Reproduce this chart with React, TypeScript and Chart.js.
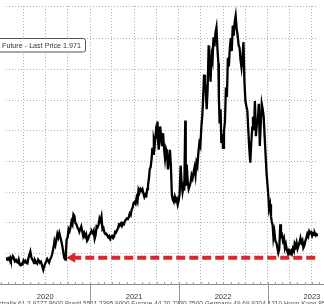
import React, { useEffect, useRef } from "react";
import { Chart, registerables } from "chart.js";

Chart.register(...registerables);

const dates: string[] = [
  "2020-01-22","2020-01-27","2020-01-31","2020-02-04","2020-02-08","2020-02-11","2020-02-15","2020-02-19","2020-02-23","2020-02-27",
  "2020-03-03","2020-03-06","2020-03-10","2020-03-14","2020-03-18","2020-03-22","2020-03-26","2020-03-30","2020-04-03","2020-04-07",
  "2020-04-11","2020-04-15","2020-04-19","2020-04-23","2020-04-27","2020-05-01","2020-05-05","2020-05-08","2020-05-12","2020-05-16",
  "2020-05-20","2020-05-24","2020-05-29","2020-06-02","2020-06-05","2020-06-09","2020-06-13","2020-06-17","2020-06-23","2020-06-27",
  "2020-07-01","2020-07-05","2020-07-09","2020-07-13","2020-07-17","2020-07-21","2020-07-25","2020-07-29","2020-08-04","2020-08-08",
  "2020-08-12","2020-08-16","2020-08-20","2020-08-24","2020-08-28","2020-09-01","2020-09-05","2020-09-09","2020-09-13","2020-09-17",
  "2020-09-21","2020-09-24","2020-09-27","2020-10-01","2020-10-05","2020-10-09","2020-10-13","2020-10-17","2020-10-21","2020-10-25",
  "2020-10-29","2020-11-02","2020-11-06","2020-11-10","2020-11-14","2020-11-18","2020-11-22","2020-11-26","2020-11-30","2020-12-04",
  "2020-12-08","2020-12-12","2020-12-16","2020-12-20","2020-12-24","2020-12-28",
  "2021-01-01","2021-01-05","2021-01-08","2021-01-12","2021-01-16","2021-01-20","2021-01-24","2021-01-28","2021-02-01","2021-02-05",
  "2021-02-09","2021-02-13","2021-02-17","2021-02-21","2021-02-25","2021-03-01","2021-03-05","2021-03-09","2021-03-13","2021-03-17",
  "2021-03-21","2021-03-25","2021-03-29","2021-04-02","2021-04-06","2021-04-10","2021-04-14","2021-04-18","2021-04-22","2021-04-26",
  "2021-04-30","2021-05-04","2021-05-08","2021-05-12","2021-05-16","2021-05-20","2021-05-24","2021-05-28","2021-06-01","2021-06-05",
  "2021-06-09","2021-06-13","2021-06-17","2021-06-21","2021-06-25","2021-06-29","2021-07-03","2021-07-07","2021-07-11","2021-07-15",
  "2021-07-19","2021-07-23","2021-07-27","2021-07-31","2021-08-04","2021-08-08","2021-08-12","2021-08-16","2021-08-20","2021-08-24",
  "2021-08-27","2021-08-31","2021-09-03","2021-09-07","2021-09-11","2021-09-14","2021-09-17","2021-09-20","2021-09-24","2021-09-28",
  "2021-10-01","2021-10-05","2021-10-08","2021-10-10","2021-10-13","2021-10-16","2021-10-20","2021-10-24","2021-10-28","2021-11-01",
  "2021-11-05","2021-11-09","2021-11-13","2021-11-17","2021-11-21","2021-11-25","2021-11-29","2021-12-03","2021-12-07","2021-12-11",
  "2021-12-15","2021-12-19","2021-12-23","2021-12-27","2021-12-31",
  "2022-01-04","2022-01-08","2022-01-12","2022-01-16","2022-01-20","2022-01-23","2022-01-27","2022-01-29","2022-02-02","2022-02-06",
  "2022-02-10","2022-02-14","2022-02-18","2022-02-22","2022-02-26","2022-03-02","2022-03-06","2022-03-10","2022-03-14","2022-03-18",
  "2022-03-22","2022-03-26","2022-03-30","2022-04-03","2022-04-07","2022-04-10","2022-04-14","2022-04-18","2022-04-21","2022-04-25",
  "2022-04-29","2022-05-03","2022-05-07","2022-05-11","2022-05-15","2022-05-19","2022-05-23","2022-05-27","2022-05-31","2022-06-04",
  "2022-06-08","2022-06-12","2022-06-14","2022-06-17","2022-06-21","2022-06-24","2022-06-28","2022-07-01","2022-07-05","2022-07-09",
  "2022-07-13","2022-07-17","2022-07-21","2022-07-25","2022-07-29","2022-08-02","2022-08-06","2022-08-10","2022-08-14","2022-08-18",
  "2022-08-22","2022-08-26","2022-08-30","2022-09-03","2022-09-07","2022-09-11","2022-09-15","2022-09-19","2022-09-23","2022-09-27",
  "2022-10-01","2022-10-05","2022-10-09","2022-10-13","2022-10-17","2022-10-21","2022-10-25","2022-10-29","2022-11-01","2022-11-05",
  "2022-11-09","2022-11-13","2022-11-17","2022-11-21","2022-11-25","2022-11-29","2022-12-03","2022-12-07","2022-12-11","2022-12-15",
  "2022-12-19","2022-12-23","2022-12-27","2022-12-31",
  "2023-01-04","2023-01-06","2023-01-10","2023-01-14","2023-01-17","2023-01-21","2023-01-24","2023-01-28","2023-02-01","2023-02-05",
  "2023-02-09","2023-02-13","2023-02-17","2023-02-21","2023-02-24","2023-02-28","2023-03-04","2023-03-08","2023-03-12","2023-03-16",
  "2023-03-20","2023-03-25","2023-03-29","2023-04-02","2023-04-06","2023-04-10","2023-04-14","2023-04-18","2023-04-21","2023-04-25",
  "2023-04-29","2023-05-03","2023-05-07","2023-05-11","2023-05-15","2023-05-19","2023-05-23","2023-05-27","2023-05-31","2023-06-04",
  "2023-06-08","2023-06-12","2023-06-16","2023-06-20","2023-06-24","2023-06-28","2023-07-02","2023-07-06","2023-07-10","2023-07-13",
  "2023-07-17","2023-07-21","2023-07-26",
];

const prices: number[] = [
  1.86,1.80,1.84,1.79,1.86,1.77,1.83,1.91,1.86,1.74,
  1.78,1.72,1.70,1.80,1.64,1.61,1.66,1.64,1.77,1.72,
  1.76,1.68,1.67,1.84,1.95,2.06,1.88,1.81,1.77,1.68,
  1.78,1.72,1.67,1.79,1.75,1.70,1.73,1.63,1.46,1.58,
  1.66,1.74,1.82,1.76,1.70,1.80,1.86,1.96,2.18,2.40,
  2.28,2.45,2.63,2.52,2.66,2.53,2.40,2.25,2.05,1.85,
  1.80,2.05,2.45,2.52,2.79,2.72,2.85,3.04,2.95,3.27,
  3.22,2.98,2.95,2.85,2.79,2.70,2.80,2.88,2.72,2.56,
  2.66,2.55,2.62,2.41,2.46,2.58,
  2.62,2.70,2.72,2.66,2.74,2.48,2.60,2.88,2.85,2.93,
  3.14,3.06,3.20,2.79,2.83,2.68,2.63,2.64,2.58,2.52,
  2.56,2.47,2.55,2.57,2.50,2.55,2.70,2.68,2.76,2.82,
  2.95,2.93,2.98,2.90,2.98,2.95,3.05,3.10,3.14,3.12,
  3.18,3.30,3.25,3.43,3.50,3.65,3.68,3.62,3.81,3.70,
  4.07,3.98,4.10,4.05,4.10,3.95,3.84,3.92,3.88,4.10,
  4.23,4.45,4.74,4.82,5.10,5.44,5.25,5.70,5.55,5.92,
  5.75,6.30,5.60,5.38,5.70,6.14,5.80,5.50,5.92,5.40,
  5.09,5.40,5.28,4.74,5.00,5.38,4.85,3.91,3.75,3.68,
  3.85,3.72,3.78,3.59,3.72,
  3.95,4.86,4.30,4.00,4.20,4.05,6.33,4.20,4.90,4.35,
  4.10,4.20,4.32,4.55,4.45,4.64,4.80,4.55,4.96,4.85,
  5.30,5.60,5.50,6.10,6.50,6.97,7.83,7.60,7.30,6.70,
  7.40,8.79,8.10,7.60,8.47,8.30,9.05,8.75,9.20,9.37,
  8.70,8.20,7.10,6.24,6.70,5.60,5.90,5.44,6.00,6.30,
  7.42,7.10,8.38,8.10,8.70,9.02,8.60,9.43,9.10,9.55,
  9.75,9.34,9.10,8.80,8.70,8.30,8.06,8.40,8.89,7.60,
  6.97,6.80,6.65,6.00,5.40,4.96,5.60,6.10,6.46,6.01,
  6.97,5.82,6.20,6.40,6.88,5.50,6.20,6.88,6.70,6.46,
  5.80,5.18,4.60,4.20,
  3.78,3.46,3.60,3.20,3.04,2.90,2.50,2.70,2.41,2.35,
  2.20,2.02,2.15,2.95,2.55,2.60,2.41,2.50,2.18,2.30,
  2.12,1.99,2.10,2.04,2.09,2.00,2.16,2.08,2.31,2.22,
  2.35,2.15,2.25,2.35,2.50,2.35,2.42,2.18,2.25,2.40,
  2.50,2.63,2.55,2.72,2.66,2.69,2.57,2.65,2.60,2.66,
  2.58,2.62,2.57,
];

const xMinDate = "2020-01-22";
const xMaxDate = "2023-07-26";
const yMin = 1;
const yMax = 10.07;

const quarterTicks: string[] = [
  "2020-04-01","2020-07-01","2020-10-01","2021-01-01","2021-04-01","2021-07-01","2021-10-01",
  "2022-01-01","2022-04-01","2022-07-01","2022-10-01","2023-01-01","2023-04-01","2023-07-01",
];
const yearLabels: string[] = ["2020", "2021", "2022", "2023"];
const yearLabelDates: string[] = ["2020-07-01", "2021-07-01", "2022-07-01", "2023-07-01"];
const yearBoundaries: string[] = ["2021-01-01", "2022-01-01", "2023-01-01"];

const arrowLevel = 1.86;
const arrowStartDate = "2020-10-20";

const legendText = "Future - Last Price 1.971";
const footerPrefix = "Australia 61 2 9777 8600 ";
const footerText =
  "Australia 61 2 9777 8600 Brazil 5511 2395 9000 Europe 44 20 7330 7500 Germany 49 69 9204 1210 Hong Kong 852 2977 6000";

const decorPlugin = {
  id: "decor",
  afterDraw(chart: any) {
    const ctx = chart.ctx as CanvasRenderingContext2D;
    const xs = chart.scales.x;
    const bottom = chart.chartArea.bottom;
    ctx.save();
    // axis line
    ctx.strokeStyle = "#8c8c8c";
    ctx.lineWidth = 1;
    ctx.beginPath();
    ctx.moveTo(0, Math.round(bottom) + 0.5);
    ctx.lineTo(chart.width, Math.round(bottom) + 0.5);
    ctx.stroke();
    // monthly minor ticks
    ctx.strokeStyle = "#a0a0a0";
    ctx.beginPath();
    for (let y = 2020; y <= 2023; y++) {
      for (let m = 0; m < 12; m++) {
        const px = xs.getPixelForValue(Date.UTC(y, m, 1));
        if (px < 0 || px > chart.width) continue;
        ctx.moveTo(Math.round(px) + 0.5, Math.round(bottom) - 2);
        ctx.lineTo(Math.round(px) + 0.5, Math.round(bottom) + 1);
      }
    }
    ctx.stroke();
    // year separators
    ctx.strokeStyle = "#9a9a9a";
    ctx.beginPath();
    yearBoundaries.forEach((d) => {
      const px = Math.round(xs.getPixelForValue(Date.parse(d))) + 0.5;
      ctx.moveTo(px, bottom);
      ctx.lineTo(px, chart.height);
    });
    ctx.stroke();
    // year labels
    ctx.fillStyle = "#333";
    ctx.font = '7.5px "Liberation Sans", Arial, sans-serif';
    ctx.textAlign = "center";
    ctx.textBaseline = "alphabetic";
    yearLabels.forEach((lab, i) => {
      const px = xs.getPixelForValue(Date.parse(yearLabelDates[i]));
      ctx.fillText(lab, px, bottom + 14.5);
    });
    // footer text (cut off at bottom)
    ctx.fillStyle = "#555";
    ctx.font = '6.5px "Liberation Sans", Arial, sans-serif';
    ctx.textAlign = "left";
    const pw = ctx.measureText(footerPrefix).width;
    ctx.fillText(footerText, 65 - pw, chart.height + 1.5);
    // legend box
    ctx.beginPath();
    if ((ctx as any).roundRect) (ctx as any).roundRect(-4, 38.5, 89.5, 13.5, 2);
    else ctx.rect(-4, 38.5, 89.5, 13.5);
    ctx.fillStyle = "#ffffff";
    ctx.fill();
    ctx.strokeStyle = "#555";
    ctx.lineWidth = 1;
    ctx.stroke();
    ctx.fillStyle = "#333";
    ctx.font = '8px "Liberation Sans", Arial, sans-serif';
    ctx.textAlign = "left";
    ctx.fillText(legendText, 2, 48, 79);
    ctx.restore();
  },
};

export default function App() {
  const ref = useRef<HTMLCanvasElement | null>(null);
  useEffect(() => {
    if (!ref.current) return;
    const mainData = dates.map((d, i) => ({ x: Date.parse(d), y: prices[i] }));
    const arrowData = [
      { x: Date.parse(arrowStartDate), y: arrowLevel },
      { x: Date.parse(xMaxDate), y: arrowLevel },
    ];
    const chart = new Chart(ref.current, {
      type: "line",
      data: {
        datasets: [
          {
            data: arrowData,
            borderColor: "#e0242b",
            backgroundColor: "#e0242b",
            borderWidth: 4,
            borderDash: [9, 4],
            pointRadius: [6, 0],
            pointStyle: "triangle",
            rotation: -90,
            pointBorderWidth: 0,
            pointBackgroundColor: "#e0242b",
            order: 0,
          } as any,
          {
            data: mainData,
            borderColor: "#000000",
            borderWidth: 2.3,
            pointRadius: 0,
            tension: 0,
            order: 1,
          },
        ],
      },
      options: {
        animation: false,
        responsive: false,
        maintainAspectRatio: false,
        events: [],
        layout: { padding: { left: 0, right: 0, top: 0, bottom: 20 } },
        plugins: { legend: { display: false }, tooltip: { enabled: false } },
        scales: {
          x: {
            type: "linear",
            min: Date.parse(xMinDate),
            max: Date.parse(xMaxDate),
            afterBuildTicks: (axis: any) => {
              axis.ticks = quarterTicks.map((d) => ({ value: Date.parse(d) }));
            },
            ticks: { display: false },
            grid: { drawTicks: false, color: "#b0b0b0", lineWidth: 1 },
            border: { display: false, dash: [1, 2] },
          },
          y: {
            min: yMin,
            max: yMax,
            ticks: { display: false, stepSize: 1 },
            grid: { drawTicks: false, color: "#b0b0b0", lineWidth: 1 },
            border: { display: false, dash: [1, 2] },
          },
        },
      },
      plugins: [decorPlugin],
    });
    return () => chart.destroy();
  }, []);
  return (
    <div style={{ position: "absolute", left: 0, top: 0, width: 324, height: 304, background: "#fff" }}>
      <canvas ref={ref} width={324} height={304} style={{ width: 324, height: 304, display: "block" }} />
    </div>
  );
}
